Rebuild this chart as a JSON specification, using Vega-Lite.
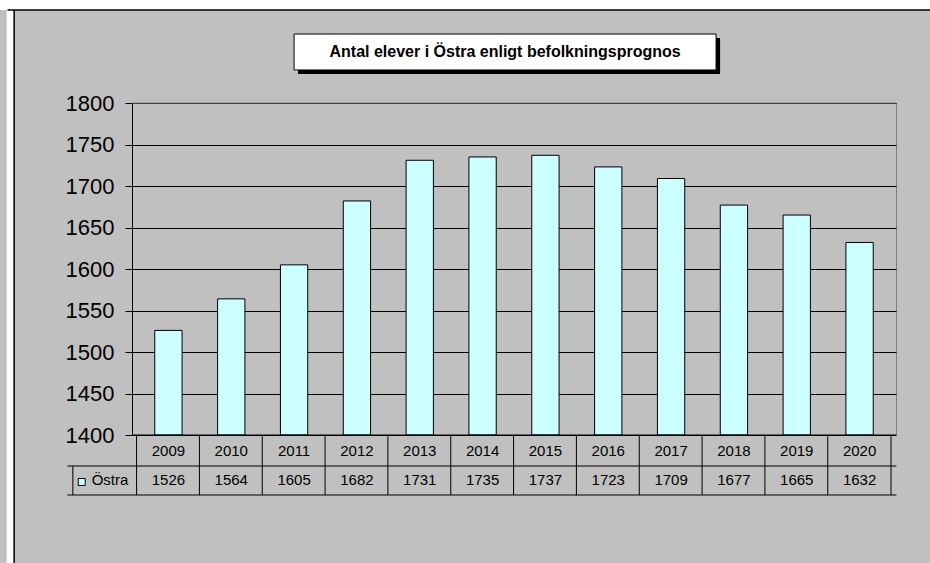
{
  "$schema": "https://vega.github.io/schema/vega-lite/v6.json",
  "width": 764,
  "height": 332,
  "autosize": {"type": "none"},
  "padding": {"left": 132, "top": 103, "right": 34, "bottom": 128},
  "background": "#c0c0c0",
  "config": {
    "view": {"stroke": "#808080", "strokeWidth": 1},
    "font": "Liberation Sans",
    "axisX": {"disable": true}
  },
  "data": {
    "values": [
      {"year": 2009, "value": 1526},
      {"year": 2010, "value": 1564},
      {"year": 2011, "value": 1605},
      {"year": 2012, "value": 1682},
      {"year": 2013, "value": 1731},
      {"year": 2014, "value": 1735},
      {"year": 2015, "value": 1737},
      {"year": 2016, "value": 1723},
      {"year": 2017, "value": 1709},
      {"year": 2018, "value": 1677},
      {"year": 2019, "value": 1665},
      {"year": 2020, "value": 1632}
    ]
  },
  "layer": [
    {
      "mark": {"type": "bar", "fill": "#ccffff", "stroke": "#000000", "strokeWidth": 1, "width": 27.3},
      "encoding": {
        "x": {
          "field": "year", "type": "quantitative",
          "scale": {"domain": [2008.5, 2020.5], "nice": false, "zero": false},
          "axis": null
        },
        "y": {
          "field": "value", "type": "quantitative",
          "scale": {"domain": [1400, 1800], "zero": false, "nice": false},
          "axis": {
            "title": null,
            "format": "d",
            "values": [1400, 1450, 1500, 1550, 1600, 1650, 1700, 1750, 1800],
            "grid": true,
            "gridColor": "#000000",
            "gridOpacity": 1,
            "gridWidth": 1,
            "domainColor": "#000000",
            "domainWidth": 1,
            "tickColor": "#000000",
            "tickSize": 7,
            "labelFontSize": 22,
            "labelColor": "#000000",
            "labelFont": "Liberation Sans",
            "labelPadding": 11
          }
        },
        "y2": {"datum": 1400}
      }
    },
    {
      "data": {"values": [{}]},
      "mark": {"type": "bar", "fill": "#ffffff", "width": 7},
      "encoding": {
        "x": {"datum": 2006.482, "type": "quantitative", "axis": null},
        "y": {"datum": 1940, "type": "quantitative"},
        "y2": {"datum": 1000}
      }
    },
    {
      "data": {"values": [{}]},
      "mark": {"type": "bar", "fill": "#ffffff", "width": 960},
      "encoding": {
        "x": {"datum": 2013.73, "type": "quantitative", "axis": null},
        "y": {"datum": 1940, "type": "quantitative"},
        "y2": {"datum": 1912.05}
      }
    },
    {
      "data": {"values": [{}]},
      "mark": {"type": "rule", "color": "#000000", "strokeWidth": 1.5},
      "encoding": {
        "x": {"datum": 2006.545, "type": "quantitative", "axis": null},
        "y": {"datum": 1912.05, "type": "quantitative"},
        "y2": {"datum": 1000}
      }
    },
    {
      "data": {"values": [{}]},
      "mark": {"type": "tick", "orient": "horizontal", "color": "#000000", "opacity": 1, "size": 933, "thickness": 1.5},
      "encoding": {
        "x": {"datum": 2013.864, "type": "quantitative", "axis": null},
        "y": {"datum": 1912.05, "type": "quantitative"}
      }
    },
    {
      "data": {"values": [{}]},
      "mark": {"type": "rule", "color": "#808080", "strokeWidth": 1},
      "encoding": {"y": {"datum": 1800, "type": "quantitative"}}
    },
    {
      "data": {"values": [{}]},
      "mark": {"type": "rule", "color": "#000000", "strokeWidth": 1},
      "encoding": {"y": {"datum": 1400, "type": "quantitative"}}
    },
    {
      "mark": {"type": "rule", "color": "#000000", "strokeWidth": 1, "xOffset": -31.83},
      "encoding": {
        "x": {"field": "year", "type": "quantitative", "axis": null},
        "y": {"datum": 1400, "type": "quantitative"},
        "y2": {"datum": 1327.7}
      }
    },
    {
      "data": {"values": [{}]},
      "mark": {"type": "rule", "color": "#000000", "strokeWidth": 1},
      "encoding": {
        "x": {"datum": 2020.5, "type": "quantitative", "axis": null},
        "y": {"datum": 1400, "type": "quantitative"},
        "y2": {"datum": 1327.7}
      }
    },
    {
      "data": {"values": [{}]},
      "mark": {"type": "tick", "orient": "horizontal", "color": "#000000", "opacity": 1, "size": 829, "thickness": 1},
      "encoding": {
        "x": {"datum": 2013.989, "type": "quantitative", "axis": null},
        "y": {"datum": 1362.7, "type": "quantitative"}
      }
    },
    {
      "data": {"values": [{}]},
      "mark": {"type": "tick", "orient": "horizontal", "color": "#000000", "opacity": 1, "size": 829, "thickness": 1},
      "encoding": {
        "x": {"datum": 2013.989, "type": "quantitative", "axis": null},
        "y": {"datum": 1327.7, "type": "quantitative"}
      }
    },
    {
      "data": {"values": [{}]},
      "mark": {"type": "rule", "color": "#000000", "strokeWidth": 1},
      "encoding": {
        "x": {"datum": 2007.479, "type": "quantitative", "axis": null},
        "y": {"datum": 1362.7, "type": "quantitative"},
        "y2": {"datum": 1327.7}
      }
    },
    {
      "mark": {"type": "text", "fontSize": 15, "color": "#000000", "baseline": "middle", "align": "center"},
      "encoding": {
        "x": {"field": "year", "type": "quantitative", "axis": null},
        "y": {"datum": 1381.3, "type": "quantitative"},
        "text": {"field": "year", "type": "nominal"}
      }
    },
    {
      "mark": {"type": "text", "fontSize": 15, "color": "#000000", "baseline": "middle", "align": "center"},
      "encoding": {
        "x": {"field": "year", "type": "quantitative", "axis": null},
        "y": {"datum": 1345.2, "type": "quantitative"},
        "text": {"field": "value", "type": "nominal"}
      }
    },
    {
      "data": {"values": [{}]},
      "mark": {"type": "point", "shape": "square", "size": 49, "filled": true, "fill": "#ccffff", "stroke": "#000000", "strokeWidth": 1, "opacity": 1},
      "encoding": {
        "x": {"datum": 2007.62, "type": "quantitative", "axis": null},
        "y": {"datum": 1343.4, "type": "quantitative"}
      }
    },
    {
      "data": {"values": [{}]},
      "mark": {"type": "text", "fontSize": 15, "color": "#000000", "baseline": "middle", "align": "left"},
      "encoding": {
        "x": {"datum": 2007.778, "type": "quantitative", "axis": null},
        "y": {"datum": 1345.2, "type": "quantitative"},
        "text": {"value": "Östra"}
      }
    },
    {
      "data": {"values": [{}]},
      "mark": {"type": "bar", "fill": "#000000", "width": 422, "xOffset": 4, "yOffset": 4, "y2Offset": 4},
      "encoding": {
        "x": {"datum": 2014.358, "type": "quantitative", "axis": null},
        "y": {"datum": 1883.1, "type": "quantitative"},
        "y2": {"datum": 1839.8}
      }
    },
    {
      "data": {"values": [{}]},
      "mark": {"type": "bar", "fill": "#ffffff", "stroke": "#000000", "strokeWidth": 1, "width": 422},
      "encoding": {
        "x": {"datum": 2014.358, "type": "quantitative", "axis": null},
        "y": {"datum": 1883.1, "type": "quantitative"},
        "y2": {"datum": 1839.8}
      }
    },
    {
      "data": {"values": [{}]},
      "mark": {"type": "text", "fontSize": 16, "fontWeight": "bold", "color": "#000000", "baseline": "middle", "align": "center"},
      "encoding": {
        "x": {"datum": 2014.358, "type": "quantitative", "axis": null},
        "y": {"datum": 1861.4, "type": "quantitative"},
        "text": {"value": "Antal elever i Östra enligt befolkningsprognos"}
      }
    }
  ]
}
